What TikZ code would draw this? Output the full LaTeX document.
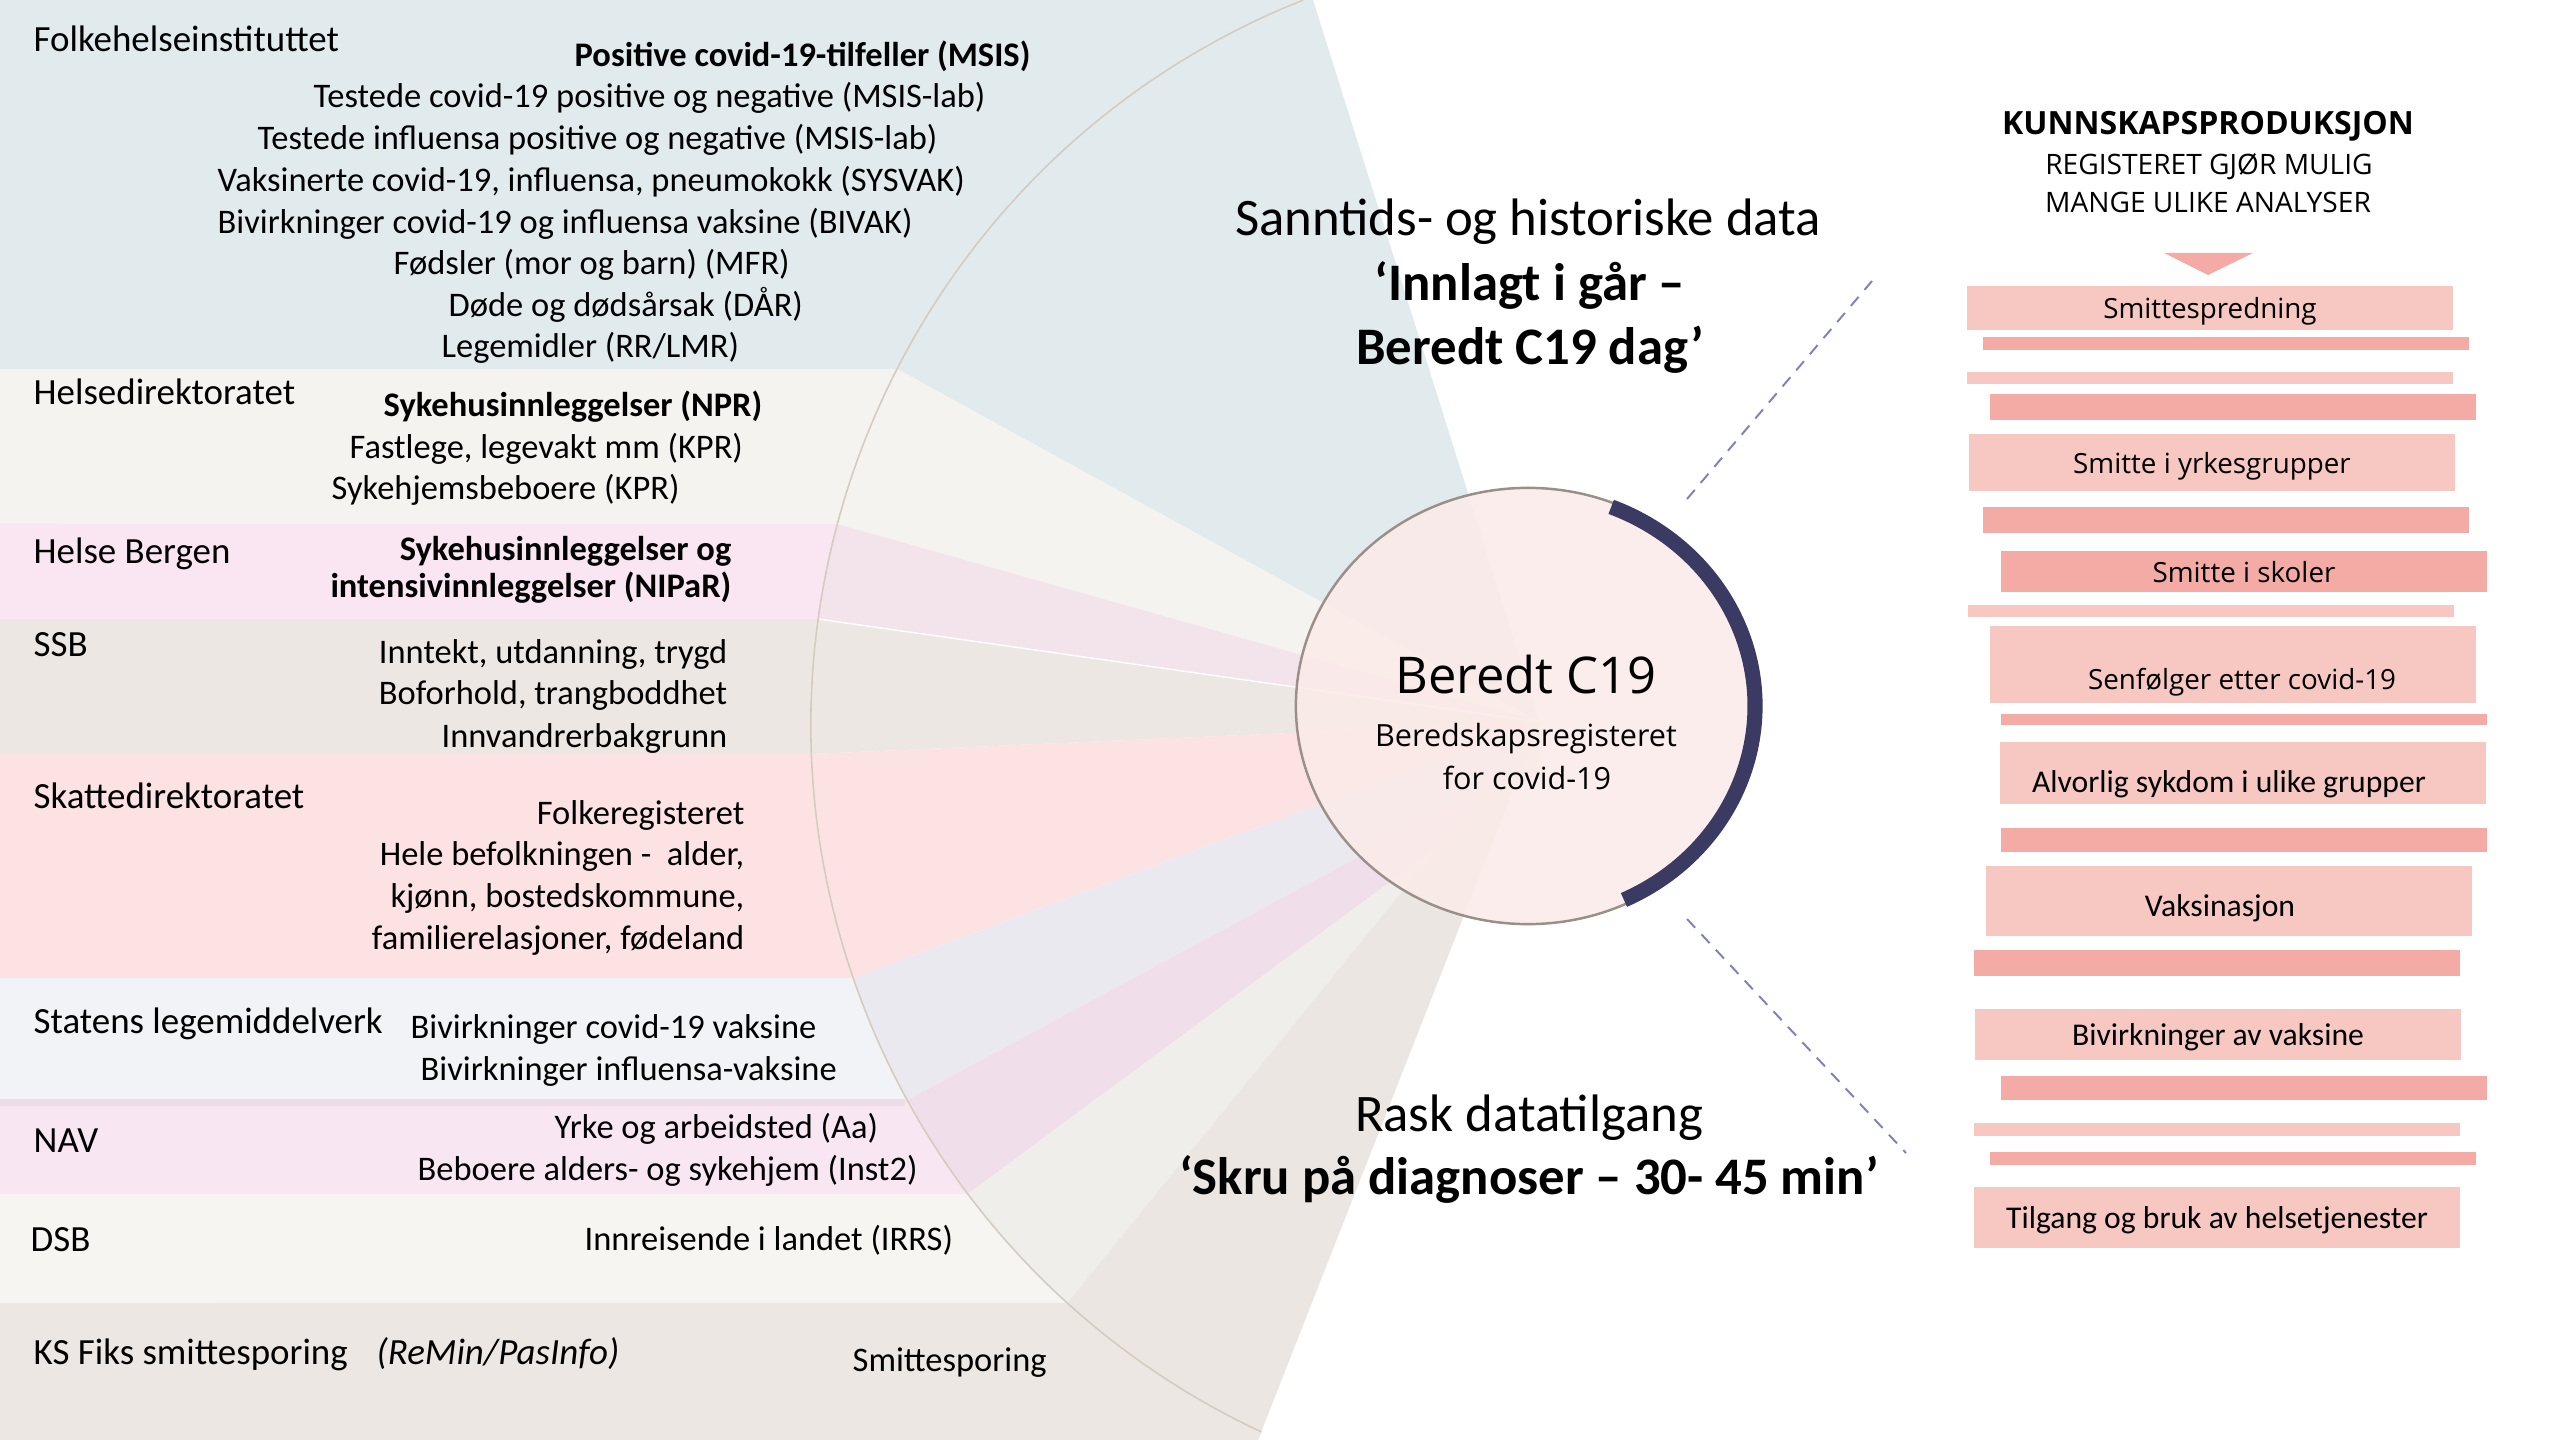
\documentclass[tikz,border=0pt]{standalone}
\usepackage{fontspec}
\setmainfont{Carlito}
\newfontfamily\opensans{Open Sans}
\usepackage{tikz}
\usetikzlibrary{shapes.geometric}
\definecolor{fhiblue}{HTML}{E1EAED}
\definecolor{hdirgrey}{HTML}{F4F3F0}
\definecolor{hbpink}{HTML}{F9E6F2}
\definecolor{hbfan}{HTML}{F3E3EA}
\definecolor{ssbsand}{HTML}{EDE7E3}
\definecolor{skattrose}{HTML}{FDE2E3}
\definecolor{slvgrey}{HTML}{F2F3F7}
\definecolor{slvfan}{HTML}{EAE9EF}
\definecolor{navpink}{HTML}{F8E6F2}
\definecolor{navfan}{HTML}{F0DEEA}
\definecolor{navedge}{HTML}{EEDCE8}
\definecolor{dsbwhite}{HTML}{F6F5F2}
\definecolor{dsbfan}{HTML}{EFEEEA}
\definecolor{kssand}{HTML}{ECE7E2}
\definecolor{ksfan}{HTML}{EBE6E1}
\definecolor{rimtan}{HTML}{D5CBBF}
\definecolor{hubfill}{HTML}{FBEBE8}
\definecolor{hubline}{HTML}{9A9087}
\definecolor{ringnavy}{HTML}{3B3A63}
\definecolor{dashblue}{HTML}{7F80C0}
\definecolor{rosedark}{HTML}{F4ABA6}
\definecolor{roselight}{HTML}{F7C8C2}
\tikzset{
	% Left side: sources and their registers
	source/.style={anchor=base west, inner sep=0pt, font=\fontsize{10.5}{12.6}\selectfont},
	entry/.style={anchor=base west, inner sep=0pt, font=\fontsize{9.8}{11.8}\selectfont},
	entryr/.style={entry, anchor=base east},
	% Middle headlines
	headline/.style={anchor=base, inner sep=0pt, font=\fontsize{15}{18}\selectfont},
	% Right side boxes
	pane/.style={fill=roselight, minimum width=4.86cm, inner sep=0pt, text depth=0pt, font=\opensans\fontsize{7.9}{9.5}\selectfont},
	panec/.style={pane, font=\fontsize{9}{10.8}\selectfont},
	panetext/.style={inner sep=0pt, text depth=0pt, font=\opensans\fontsize{7.9}{9.5}\selectfont},
	panetextc/.style={inner sep=0pt, text depth=0pt, font=\fontsize{9}{10.8}\selectfont}
}
\begin{document}
\begin{tikzpicture}[x=0.01cm, y=0.01cm]
		\useasboundingbox (0,0) rectangle (2560,-1440);
		\fill [white] (0,0) rectangle (2560,-1440);
		% fan geometry
		\coordinate (o) at (1591,-725);
		\coordinate (c) at (1540,-722);
		\coordinate (c6) at (1540,-759);
		\coordinate (c7) at (1540,-771);
		\coordinate (t) at (1313,0);
		\coordinate (q) at (1258,-1440);
		\path (o) ++(152.84:780) coordinate (p1);
		\path (o) ++(165.07:780) coordinate (p2);
		\path (o) ++(172.19:780) coordinate (p3);
		\path (o) ++(182.13:780) coordinate (p4);
		\path (o) ++(198.93:780) coordinate (p5);
		\path (o) ++(208.74:780) coordinate (p6);
		\path (o) ++(216.96:780) coordinate (p7);
		\path (o) ++(227.82:780) coordinate (p8);
		% wedges
		\fill [fhiblue] (0,0) -- (t) -- (c) -- (p1) -- (0,-369) -- cycle;
		\fill [hdirgrey] (0,-369) -- (p1) -- (c) -- (p2) -- (0,-524) -- cycle;
		\fill [hbfan] (0,-524) -- (p2) -- (c) -- (p3) -- (0,-619) -- cycle;
		\fill [ssbsand] (0,-619) -- (p3) -- (c) -- (p4) -- (0,-754) -- cycle;
		\fill [skattrose] (0,-754) -- (p4) -- (c) -- (p5) -- (0,-978) -- cycle;
		\fill [slvfan] (0,-978) -- (p5) -- (c) -- (c6) -- (p6) -- (0,-1100) -- cycle;
		\fill [navfan] (0,-1100) -- (p6) -- (c6) -- (c7) -- (p7) -- (0,-1194) -- cycle;
		\fill [dsbfan] (0,-1194) -- (p7) -- (c7) -- (c) -- (p8) -- (0,-1303) -- cycle;
		\fill [ksfan] (0,-1303) -- (p8) -- (c) -- (q) -- (0,-1440) -- cycle;
		% bands outside the rim
		\fill [hbpink] (0,-524) -- (p2) arc [start angle=165.07, end angle=172.19, radius=780] -- (0,-619) -- cycle;
		\fill [slvgrey] (0,-978) -- (p5) arc [start angle=198.93, end angle=208.74, radius=780] -- (0,-1100) -- cycle;
		\fill [navpink] (0,-1100) -- (p6) arc [start angle=208.74, end angle=216.96, radius=780] -- (0,-1194) -- cycle;
		\fill [navedge] (0,-1099) rectangle (905,-1106);
		\fill [dsbwhite] (0,-1194) -- (p7) arc [start angle=216.96, end angle=227.82, radius=780] -- (0,-1303) -- cycle;
		\fill [kssand] (0,-1303) -- (p8) arc [start angle=227.82, end angle=245, radius=780] -- (q) -- (0,-1440) -- cycle;
		\draw [white, line width=0.4pt] (p3) -- (c);
		\draw [rimtan, line width=0.45pt] (o) ++(111.65:780) arc [start angle=111.65, end angle=245, radius=780];
		% the register
		\node [ellipse, draw=hubline, line width=0.7pt, fill=hubfill, fill opacity=0.85, minimum width=4.64cm, minimum height=4.36cm, inner sep=0pt] (hub) at (1528,-706) {};
		\draw [ringnavy, line width=4.3pt] (hub.center) ++(-65:227 and 214) arc [start angle=-65, end angle=68.5, x radius=227, y radius=214];
		\node [anchor=base, inner sep=0pt, font=\opensans\fontsize{14.4}{17}\selectfont] (name) at (1526,-694) {Beredt C19};
		\node [anchor=base, inner sep=0pt, font=\opensans\fontsize{8.7}{10.5}\selectfont] (full) at (1526,-747) {Beredskapsregisteret};
		\node [anchor=base, inner sep=0pt, font=\opensans\fontsize{8.7}{10.5}\selectfont] (full2) at (1527,-790) {for covid-19};
		% dashed connectors
		\coordinate (u1) at (1687,-499);
		\coordinate (u2) at (1872,-281);
		\coordinate (l1) at (1687,-919);
		\coordinate (l2) at (1906,-1153);
		\draw [dashblue, line width=0.55pt, dash pattern=on 3.4pt off 2.6pt] (u1) -- (u2);
		\draw [dashblue, line width=0.55pt, dash pattern=on 3.4pt off 2.6pt] (l1) -- (l2);
		% headlines
		\node [headline] (rt) at (1528,-236) {Sanntids- og historiske data};
		\node [headline] (rt2) at (1530,-301) {\textbf{‘Innlagt i går –}};
		\node [headline] (rt3) at (1530,-365) {\textbf{Beredt C19 dag’}};
		\node [headline] (fast) at (1529,-1131) {Rask datatilgang};
		\node [headline] (fast2) at (1529,-1194) {\textbf{‘Skru på diagnoser – 30- 45 min’}};
		% sources
		\node [source] (fhi) at (33,-52) {Folkehelseinstituttet};
		\node [entry] (msis) at (574,-67) {\textbf{Positive covid-19-tilfeller (MSIS)}};
		\node [entry] at (313,-108) {Testede covid-19 positive og negative (MSIS-lab)};
		\node [entry] at (257,-150) {Testede influensa positive og negative (MSIS-lab)};
		\node [entry] at (217,-192) {Vaksinerte covid-19, influensa, pneumokokk (SYSVAK)};
		\node [entry] at (217,-234) {Bivirkninger covid-19 og influensa vaksine (BIVAK)};
		\node [entry] at (393,-275) {Fødsler (mor og barn) (MFR)};
		\node [entry] at (448,-317) {Døde og dødsårsak (DÅR)};
		\node [entry] at (441,-358) {Legemidler (RR/LMR)};
		\node [source] (hdir) at (33,-405) {Helsedirektoratet};
		\node [entry] at (383,-417) {\textbf{Sykehusinnleggelser (NPR)}};
		\node [entry] at (349,-459) {Fastlege, legevakt mm (KPR)};
		\node [entry] at (331,-500) {Sykehjemsbeboere (KPR)};
		\node [source] (hb) at (33,-564) {Helse Bergen};
		\node [entryr] at (732,-561) {\textbf{Sykehusinnleggelser og}};
		\node [entryr] at (732,-598) {\textbf{intensivinnleggelser (NIPaR)}};
		\node [source] (ssb) at (33,-657) {SSB};
		\node [entryr] at (728,-664) {Inntekt, utdanning, trygd};
		\node [entryr] at (728,-705) {Boforhold, trangboddhet};
		\node [entryr] at (728,-748) {Innvandrerbakgrunn};
		\node [source] (skatt) at (33,-809) {Skattedirektoratet};
		\node [entryr] at (745,-824) {Folkeregisteret};
		\node [entryr] at (745,-866) {Hele befolkningen - \ alder,};
		\node [entryr] at (745,-907) {kjønn, bostedskommune,};
		\node [entryr] at (745,-949) {familierelasjoner, fødeland};
		\node [source] (slv) at (33,-1034) {Statens legemiddelverk};
		\node [entry] at (410,-1038) {Bivirkninger covid-19 vaksine};
		\node [entry] at (420,-1080) {Bivirkninger influensa-vaksine};
		\node [source] (nav) at (33,-1152) {NAV};
		\node [entry] at (554,-1138) {Yrke og arbeidsted (Aa)};
		\node [entry] at (417,-1180) {Beboere alders- og sykehjem (Inst2)};
		\node [source] (dsb) at (30,-1251) {DSB};
		\node [entry] at (584,-1250) {Innreisende i landet (IRRS)};
		\node [source] (ks) at (33,-1364) {KS Fiks smittesporing};
		\node [source] at (376,-1364) {\textit{(ReMin/PasInfo)}};
		\node [entry] at (852,-1371) {Smittesporing};
		% knowledge production
		\node [anchor=base, inner sep=0pt, font=\opensans\bfseries\fontsize{9.1}{11}\selectfont] (kp) at (2208,-134.5) {KUNNSKAPSPRODUKSJON};
		\node [anchor=base, inner sep=0pt, font=\opensans\fontsize{8}{10}\selectfont] (kp2) at (2209,-175) {REGISTERET GJØR MULIG};
		\node [anchor=base, inner sep=0pt, font=\opensans\fontsize{8}{10}\selectfont] (kp3) at (2208,-213) {MANGE ULIKE ANALYSER};
		\fill [rosedark] (2164,-253) -- (2253,-253) -- (2208,-275) -- cycle;
		\node [pane, minimum height=0.44cm] (spread) at (2210,-308) {Smittespredning};
		\fill [rosedark] (1983,-337) rectangle (2469,-350);
		\fill [roselight] (1967,-372) rectangle (2453,-384);
		\fill [rosedark] (1990,-394) rectangle (2476,-420);
		\node [pane, minimum height=0.57cm] (work) at (2212,-462.5) {Smitte i yrkesgrupper};
		\fill [rosedark] (1983,-507) rectangle (2469,-533);
		\node [pane, fill=rosedark, minimum height=0.41cm] (school) at (2244,-571.5) {Smitte i skoler};
		\fill [roselight] (1968,-605) rectangle (2454,-617);
		\node [pane, minimum height=0.77cm] (late) at (2233,-664.5) {};
		\node [panetext] at (2242,-679) {Senfølger etter covid-19};
		\fill [rosedark] (2001,-714) rectangle (2487,-725);
		\node [panec, minimum height=0.62cm] (severe) at (2243,-773) {};
		\node [panetextc] at (2229,-782) {Alvorlig sykdom i ulike grupper};
		\fill [rosedark] (2001,-828) rectangle (2487,-852);
		\node [panec, minimum height=0.70cm] (vacc) at (2229,-901) {};
		\node [panetextc] at (2220,-906) {Vaksinasjon};
		\fill [rosedark] (1974,-950) rectangle (2460,-976);
		\node [panec, minimum height=0.51cm] (adverse) at (2218,-1034.5) {Bivirkninger av vaksine};
		\fill [rosedark] (2001,-1076) rectangle (2487,-1100);
		\fill [roselight] (1974,-1123) rectangle (2460,-1136);
		\fill [rosedark] (1990,-1152) rectangle (2476,-1165);
		\node [panec, minimum height=0.61cm] (care) at (2217,-1217.5) {Tilgang og bruk av helsetjenester};
	\end{tikzpicture}
\end{document}
